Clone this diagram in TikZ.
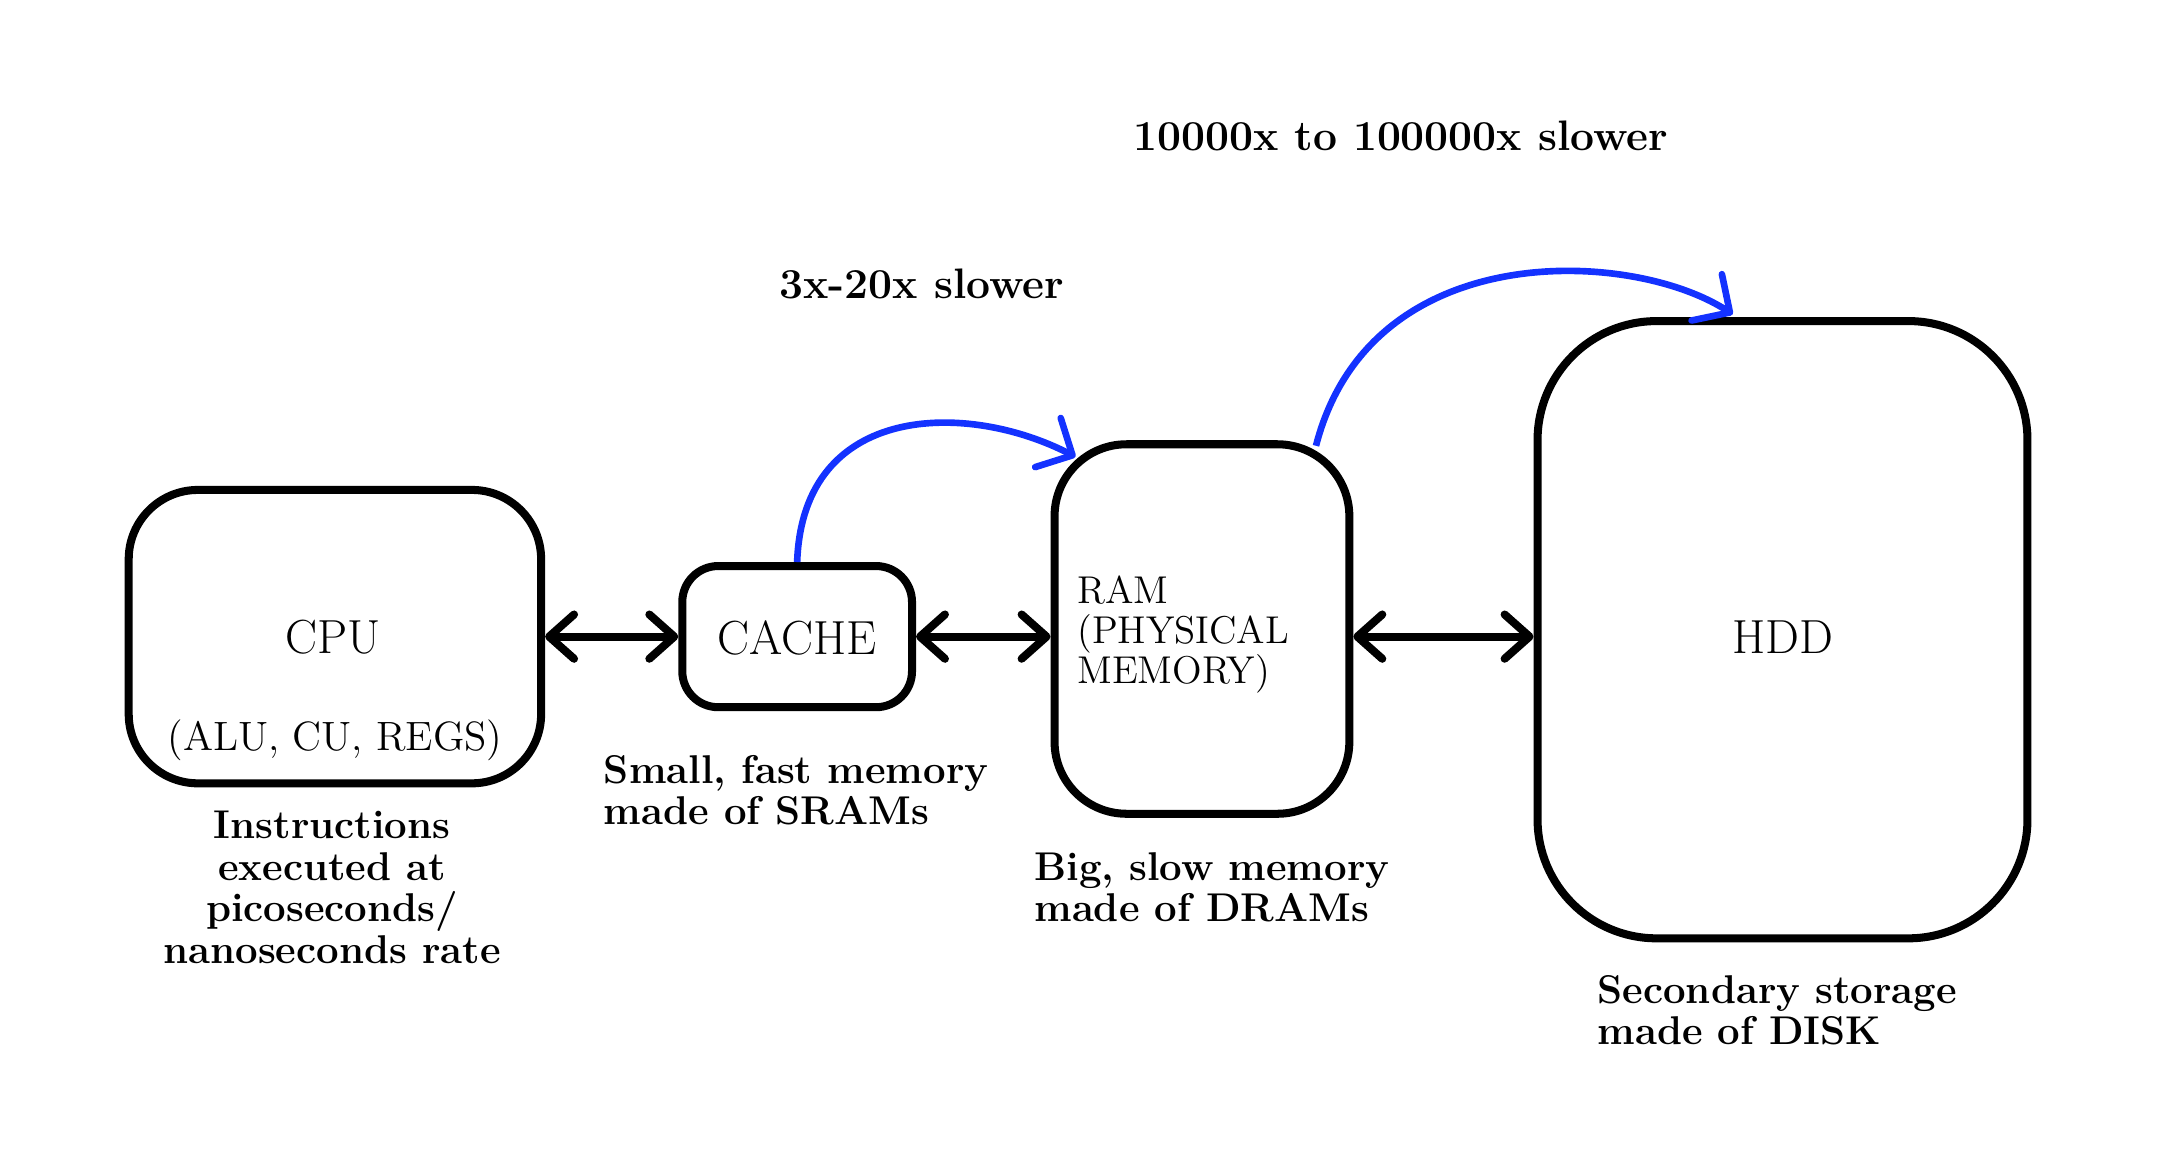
\documentclass[tikz,border=0pt]{standalone}
\usetikzlibrary{arrows.meta}
\definecolor{arcblue}{RGB}{20,50,255}
\begin{document}
\begin{tikzpicture}[x=0.5pt,y=-0.5pt,
  box/.style={draw,line width=2.9pt,rounded corners=#1,inner sep=0pt},
  box/.default=25pt,
  boxtext/.style={inner sep=0pt,font=\fontsize{17.3}{20}\selectfont},
  smalltext/.style={inner sep=0pt,font=\fontsize{14.8}{16}\selectfont},
  ramtext/.style={inner sep=0pt,align=left,font=\fontsize{14}{14.5}\selectfont},
  note/.style={inner sep=0pt,font=\fontsize{14.5}{15}\selectfont\bfseries},
  bignote/.style={inner sep=0pt,font=\fontsize{15.4}{17}\selectfont\bfseries},
  dbl/.style={line width=2.9pt,{Straight Barb[length=9pt,width=16pt,round]}-{Straight Barb[length=9pt,width=16pt,round]}},
  arc/.style={line width=2.4pt,draw=arcblue,-{Straight Barb[length=10pt,width=20pt,round]}}
]
\useasboundingbox (0,0) rectangle (1568,843);

% boxes
\node[box=25pt,minimum width=149pt,minimum height=106pt] (cpu) at (242,460) {};
\node[box=13pt,minimum width=83pt,minimum height=51pt] (cache) at (576,460) {};
\node[box=26pt,minimum width=106.5pt,minimum height=133.5pt] (ram) at (868.5,454.5) {};
\node[box=43pt,minimum width=177pt,minimum height=223pt] (hdd) at (1288,455) {};

% box texts
\node[boxtext,anchor=base] (cputxt) at (241,472) {CPU};
\node[smalltext,anchor=base] (cpusub) at (242,542) {(ALU, CU, REGS)};
\node[boxtext,anchor=base] (cachetxt) at (576,473) {CACHE};
\node[ramtext,anchor=base west] (ramtxt) at (778,494) {RAM\\(PHYSICAL\\MEMORY)};
\node[boxtext,anchor=base] (hddtxt) at (1288,472) {HDD};

% notes
\node[bignote,anchor=base] (n1) at (1012,109) {10000x to 100000x slower};
\node[bignote,anchor=base] (n2) at (666,216) {3x-20x slower};
\node[note,anchor=base west,align=left] (n3) at (436,596) {Small, fast memory\\made of SRAMs};
\node[note,anchor=base west,align=left] (n4) at (747,666) {Big, slow memory\\made of DRAMs};
\node[note,anchor=base,align=center] (n5) at (240,696) {Instructions\\executed at\\picoseconds/\\nanoseconds rate};
\node[note,anchor=base west,align=left] (n6) at (1154,755) {Secondary storage\\made of DISK};

% connectors
\draw[dbl] (cpu.east) -- (cache.west);
\draw[dbl] (cache.east) -- (cache.east -| ram.west);
\draw[dbl] (cache.east -| ram.east) -- (cache.east -| hdd.west);

\draw[arc] (cache.north) .. controls (580,290) and (700,290) .. ([xshift=9pt,yshift=-6pt]ram.north west);
\draw[arc] ([xshift=-13.5pt,yshift=-2pt]ram.north east) .. controls (990,170) and (1180,180) .. ([xshift=-18pt,yshift=1pt]hdd.north);
\end{tikzpicture}
\end{document}
